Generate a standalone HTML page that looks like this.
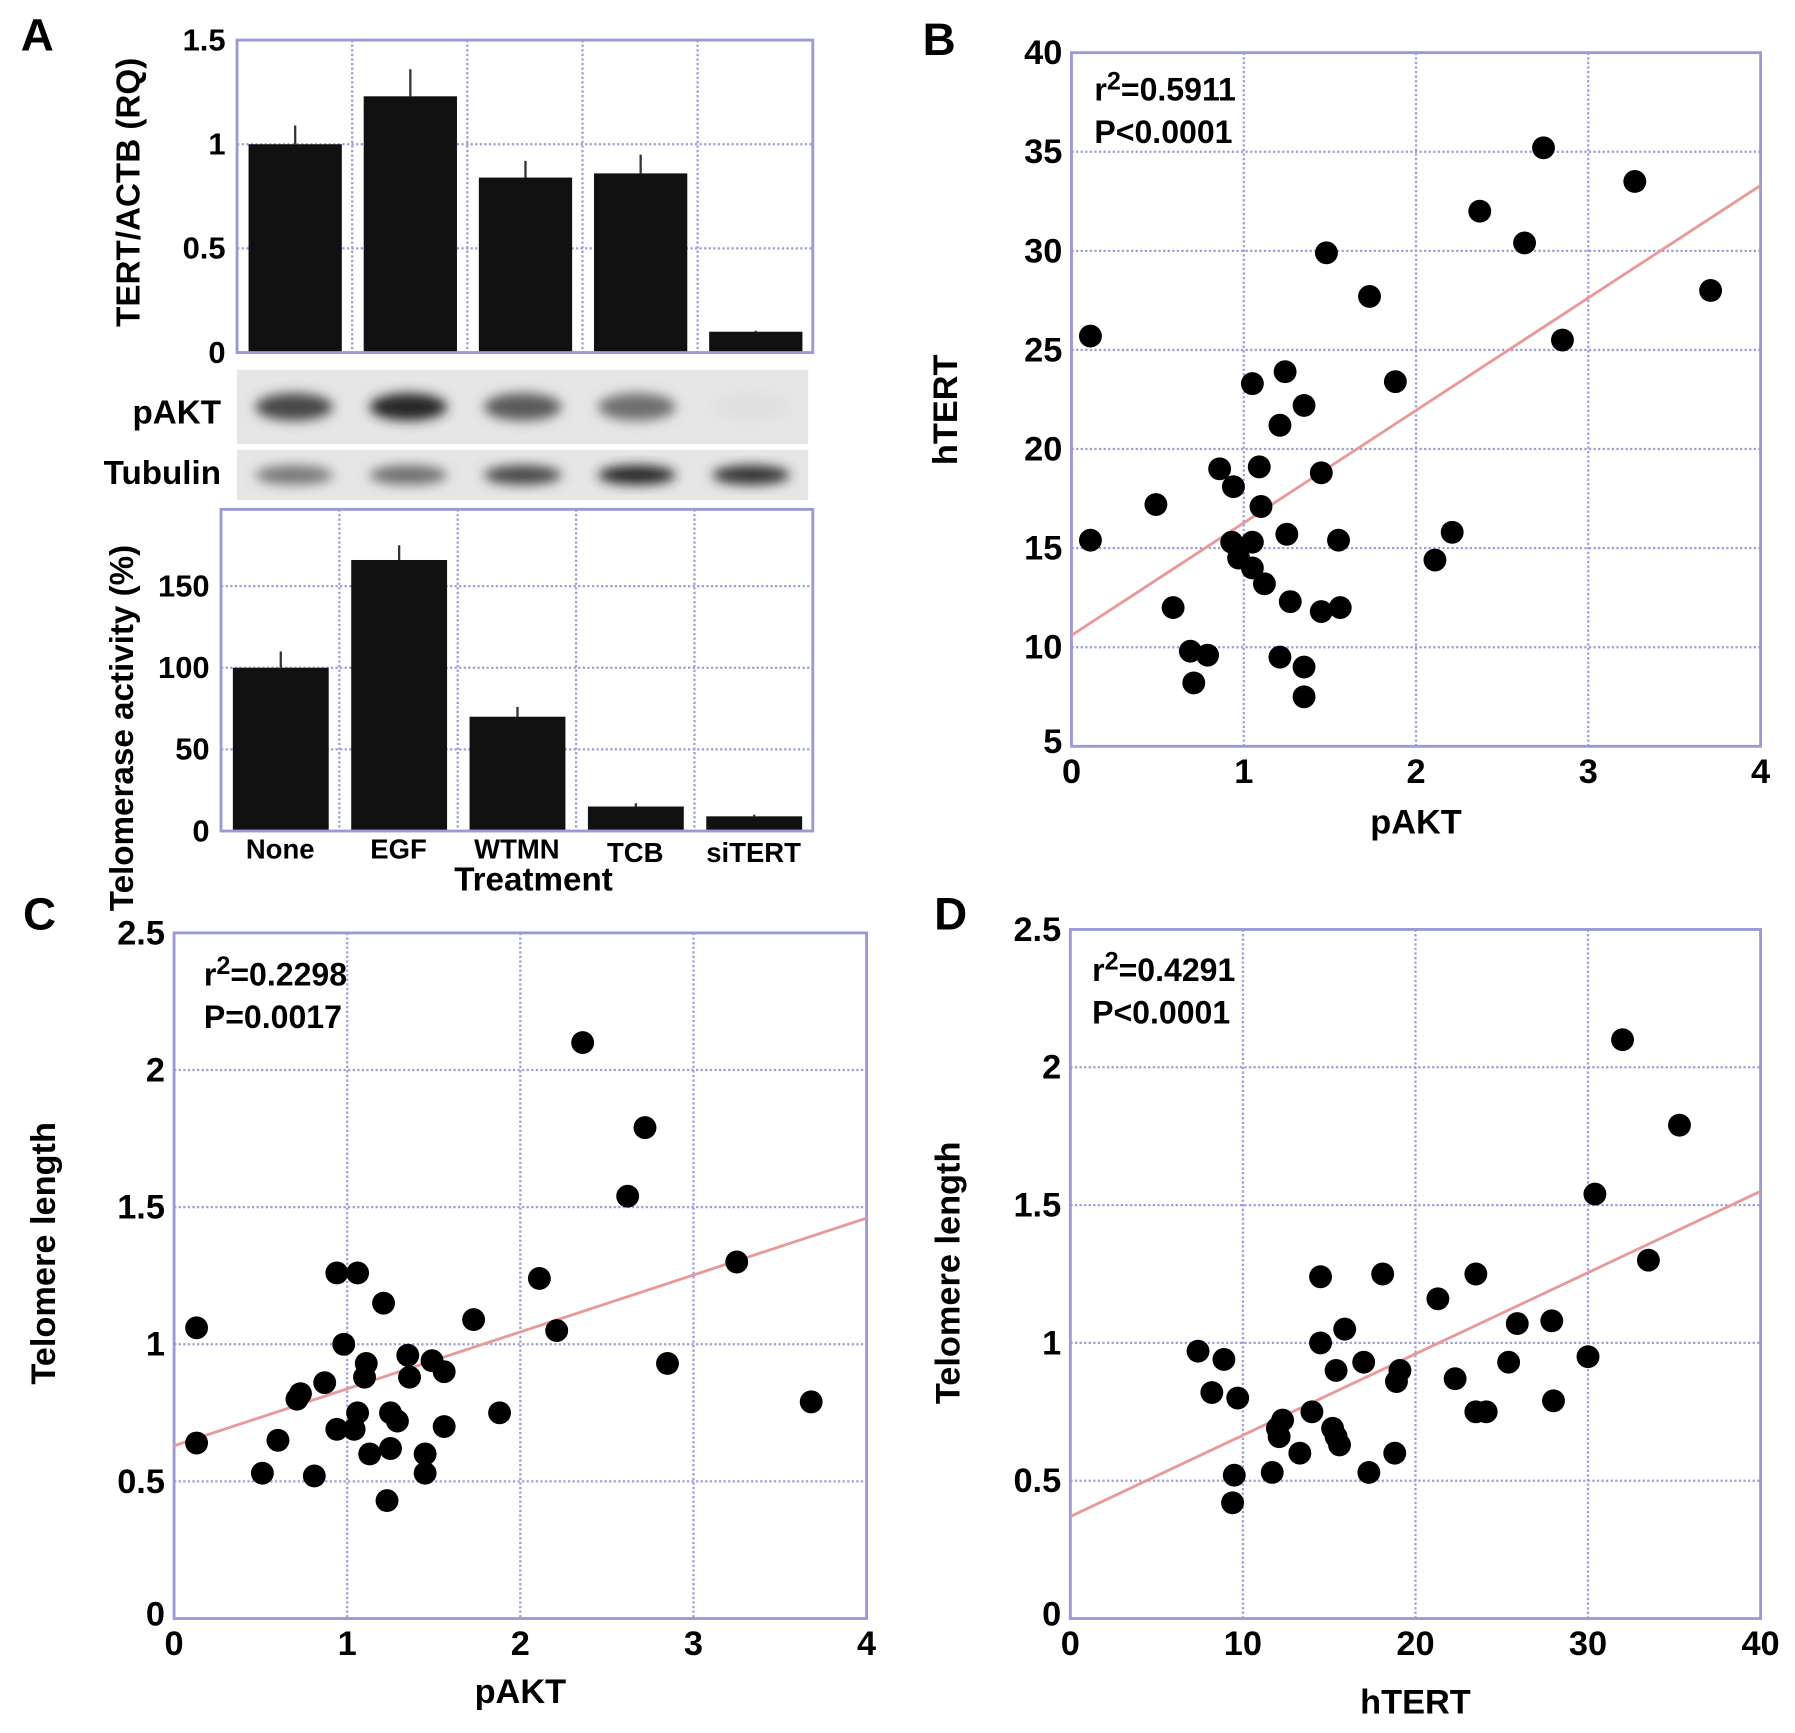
<!DOCTYPE html>
<html><head><meta charset="utf-8">
<style>
html,body{margin:0;padding:0;background:#fff;}
svg{display:block;font-family:"Liberation Sans",Arial,sans-serif;font-weight:bold;}
</style></head>
<body>
<svg id="fig" width="1795" height="1733" viewBox="0 0 1568 1514" xmlns="http://www.w3.org/2000/svg">
<defs>
<filter id="blur" x="-20%" y="-50%" width="140%" height="200%"><feGaussianBlur stdDeviation="5"/></filter>
</defs>
</svg>
<script>
// ---- Panel A data ----
const aCategories = ["None","EGF","WTMN","TCB","siTERT"];
const aTertValues = [1.0,1.23,0.84,0.86,0.10];
const aTertErrors = [0.09,0.13,0.08,0.09,0.005];
const aTertTicks = [0,0.5,1,1.5];
const aTeloValues = [100,166,70,15,9];
const aTeloErrors = [10,9,6,2,1];
const aTeloTicks = [0,50,100,150];
const aPaktIntensity = [0.8,0.95,0.7,0.6,0.03];
const aTubIntensity = [0.55,0.6,0.8,0.95,0.9];
// ---- Panel B data ----
const bPakt = [0.11,0.11,0.49,0.59,0.69,0.79,0.71,0.86,0.94,1.05,1.09,1.10,0.93,1.05,0.97,1.05,1.12,1.24,1.35,1.21,1.25,1.27,1.21,1.35,1.35,1.45,1.45,1.56,1.55,1.48,1.73,1.88,2.21,2.11,2.37,2.63,2.74,2.85,3.27,3.71];
const bHtert = [25.7,15.4,17.2,12.0,9.8,9.6,8.2,19.0,18.1,23.3,19.1,17.1,15.3,15.3,14.5,14.0,13.2,23.9,22.2,21.2,15.7,12.3,9.5,9.0,7.5,18.8,11.8,12.0,15.4,29.9,27.7,23.4,15.8,14.4,32.0,30.4,35.2,25.5,33.5,28.0];
const bFit = [10.6,33.3];
const bXTicks = [0,1,2,3,4];
const bYTicks = [5,10,15,20,25,30,35,40];
// ---- Panel C data ----
const cPakt = [0.13,0.13,0.51,0.60,0.71,0.73,0.81,0.87,0.94,1.06,0.94,0.98,1.06,1.04,1.11,1.10,1.13,1.21,1.25,1.29,1.25,1.23,1.35,1.36,1.49,1.45,1.45,1.56,1.56,1.73,1.88,2.11,2.21,2.36,2.62,2.72,2.85,3.25,3.68];
const cTelo = [1.06,0.64,0.53,0.65,0.80,0.82,0.52,0.86,1.26,1.26,0.69,1.00,0.75,0.69,0.93,0.88,0.60,1.15,0.75,0.72,0.62,0.43,0.96,0.88,0.94,0.60,0.53,0.90,0.70,1.09,0.75,1.24,1.05,2.10,1.54,1.79,0.93,1.30,0.79];
const cFit = [0.63,1.46];
const cXTicks = [0,1,2,3,4];
const cYTicks = [0,0.5,1,1.5,2,2.5];
// ---- Panel D data ----
const dHtert = [7.4,8.9,8.2,9.7,9.5,9.4,11.7,12.0,12.3,12.1,13.3,14.0,14.5,14.5,15.2,15.4,15.6,15.9,15.4,17.0,17.3,18.1,18.9,19.1,18.8,21.3,22.3,23.5,23.5,24.1,25.4,25.9,27.9,28.0,30.0,30.4,32.0,33.5,35.3];
const dTelo = [0.97,0.94,0.82,0.80,0.52,0.42,0.53,0.69,0.72,0.66,0.60,0.75,1.24,1.00,0.69,0.90,0.63,1.05,0.66,0.93,0.53,1.25,0.86,0.90,0.60,1.16,0.87,1.25,0.75,0.75,0.93,1.07,1.08,0.79,0.95,1.54,2.10,1.30,1.79];
const dFit = [0.37,1.55];
const dXTicks = [0,10,20,30,40];
const dYTicks = [0,0.5,1,1.5,2,2.5];

const NS="http://www.w3.org/2000/svg";
const svg=document.getElementById('fig');
function el(tag,attrs,parent){const e=document.createElementNS(NS,tag);for(const k in attrs)e.setAttribute(k,attrs[k]);(parent||svg).appendChild(e);return e;}
function txt(s,attrs,parent){const e=el('text',attrs,parent);e.textContent=s;return e;}
function lin(d0,d1,r0,r1){return v=>r0+(v-d0)/(d1-d0)*(r1-r0);}
const FRAME="#9a9ad6", GRID="#9f9fd8";

function frame(g,x0,y0,x1,y1){
  const r=el('rect',{x:x0,y:y0,width:x1-x0,height:y1-y0,fill:'none',stroke:FRAME,'stroke-width':2.5},g);
  
  
}
function hgrid(g,x0,x1,y){
  const l=el('line',{x1:x0,x2:x1,y1:y,y2:y,stroke:GRID,'stroke-width':2,'stroke-dasharray':'2 2'},g);
  
  
}
function vgrid(g,x,y0,y1){
  const l=el('line',{x1:x,x2:x,y1:y0,y2:y1,stroke:GRID,'stroke-width':2,'stroke-dasharray':'2 2'},g);
  
  
}
function letter(s,x,y){
  const t=txt(s,{x:x,y:y,'font-size':40});
  
  
}

// ================= Panel A =================
letter('A',18,44);
function barChart(name,cats,vals,errs,ticks,ymax,x0,y0,x1,y1,ylabel,ylx,yly){
  const g=el('g',{});
  
  
  const y=lin(0,ymax,y1,y0);
  const bw=(x1-x0)/cats.length;
  ticks.forEach(t=>{
    if(t>0 && t<ymax) hgrid(g,x0,x1,y(t));
    const tl=txt(String(t),{x:x0-10,y:y(t)+9,'font-size':27,'text-anchor':'end'},g);
    
    
  });
  for(let i=1;i<cats.length;i++) vgrid(g,x0+i*bw,y0,y1);
  cats.forEach((c,i)=>{
    const bx=x0+i*bw+bw*0.1, w=bw*0.81;
    const eb=el('line',{x1:bx+w/2,x2:bx+w/2,y1:y(vals[i]),y2:y(vals[i]+errs[i]),stroke:'#333','stroke-width':2},g);
    
    
    const b=el('rect',{x:bx,y:y(vals[i]),width:w,height:y1-y(vals[i]),fill:'#111'},g);
    
    
  });
  frame(g,x0,y0,x1,y1);
  const yl=txt(ylabel,{x:ylx,y:yly,'font-size':29,'text-anchor':'middle',transform:`rotate(-90 ${ylx} ${yly})`},g);
  
  
  return {g,bw};
}
barChart('tert-bar-chart',aCategories,aTertValues,aTertErrors,aTertTicks,1.5,207,35,710,308,'TERT/ACTB (RQ)',122,168);

// Western blot
(function(){
  const g=el('g',{});
  
  
  const rows=[{name:'pAKT',y0:323,y1:388,vals:aPaktIntensity,ly:370,h:20},{name:'Tubulin',y0:393,y1:437,vals:aTubIntensity,ly:423,h:13}];
  const x0=207,x1=706,lw=(x1-x0)/aCategories.length;
  rows.forEach(r=>{
    const bg=el('rect',{x:x0,y:r.y0,width:x1-x0,height:r.y1-r.y0,fill:'#e6e6e6'},g);
    
    
    const lbl=txt(r.name,{x:193,y:r.ly,'font-size':29,'text-anchor':'end'},g);
    
    
    const cy=(r.y0+r.y1)/2;
    r.vals.forEach((v,i)=>{
      const cx=x0+lw*(i+0.5);
      const gv=Math.round(230-v*200);
      const band=el('ellipse',{cx:cx,cy:cy,rx:lw*0.34,ry:r.h/2+2,fill:`rgb(${gv},${gv},${gv})`,filter:'url(#blur)'},g);
      
      
    });
  });
})();

const tel=barChart('telomerase-bar-chart',aCategories,aTeloValues,aTeloErrors,aTeloTicks,197,193,445,710,726,'Telomerase activity (%)',116,636);
aCategories.forEach((c,i)=>{
  const dy=(c==='TCB'||c==='siTERT')?3:0;
  const t=txt(c,{x:193+tel.bw*(i+0.5),y:750+dy,'font-size':24,'text-anchor':'middle'});
  
  
});
(function(){const t=txt('Treatment',{x:466,y:778,'font-size':29,'text-anchor':'middle'});

})();

// ================= Scatter panels =================
function scatter(name,xs,ys,fit,xt,yt,x0,y0,x1,y1,xlabel,ylabel,ylx,yly,ann1,ann2,annx,anny,xlby){
  const g=el('g',{});
  
  
  const X=lin(xt[0],xt[xt.length-1],x0,x1), Y=lin(yt[0],yt[yt.length-1],y1,y0);
  xt.forEach((t,i)=>{
    if(i>0&&i<xt.length-1) vgrid(g,X(t),y0,y1);
    const tl=txt(String(t),{x:X(t),y:y1+32,'font-size':30,'text-anchor':'middle'},g);
    
    
  });
  yt.forEach((t,i)=>{
    if(i>0&&i<yt.length-1) hgrid(g,x0,x1,Y(t));
    const tl=txt(String(t),{x:x0-8,y:Y(t)+(i===0?6:10),'font-size':30,'text-anchor':'end'},g);
    
    
  });
  frame(g,x0,y0,x1,y1);
  const xa=xt[0],xb=xt[xt.length-1];
  const fl=el('line',{x1:X(xa),y1:Y(fit[0]),x2:X(xb),y2:Y(fit[1]),stroke:'#e89a9a','stroke-width':2.5},g);
  
  
  xs.forEach((v,i)=>{
    const c=el('circle',{cx:X(v),cy:Y(ys[i]),r:10,fill:'#000'},g);
    
    
  });
  const a1=txt('',{x:annx,y:anny,'font-size':28},g);
  a1.innerHTML='r<tspan dy="-10" font-size="22">2</tspan><tspan dy="10">'+ann1+'</tspan>';
  
  
  const a2=txt(ann2,{x:annx,y:anny+37,'font-size':28},g);
  
  
  const xl=txt(xlabel,{x:(x0+x1)/2,y:xlby,'font-size':30,'text-anchor':'middle'},g);
  
  
  const yl=txt(ylabel,{x:ylx,y:yly,'font-size':30,'text-anchor':'middle',transform:`rotate(-90 ${ylx} ${yly})`},g);
  
  
}
letter('B',806,48);
scatter('scatter-pakt-htert',bPakt,bHtert,bFit,bXTicks,bYTicks,936,46,1538,652,'pAKT','hTERT',836,358,'=0.5911','P<0.0001',956,88,728);
letter('C',20,812);
scatter('scatter-pakt-telomere',cPakt,cTelo,cFit,cXTicks,cYTicks,152,815,757,1414,'pAKT','Telomere length',48,1095,'=0.2298','P=0.0017',178,861,1488);
letter('D',816,812);
scatter('scatter-htert-telomere',dHtert,dTelo,dFit,dXTicks,dYTicks,935,812,1538,1414,'hTERT','Telomere length',838,1112,'=0.4291','P<0.0001',954,857,1497);
</script>
</body></html>
